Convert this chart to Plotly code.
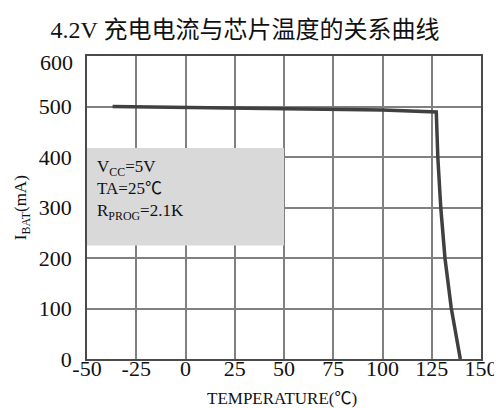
import plotly.graph_objects as go

# Data
temperature = [-37, 0, 50, 100, 127.3, 127.6, 128.1, 129.6, 131.7, 134.9, 139.5]
current = [500, 498.5, 496, 493, 489, 450, 398, 299, 200, 101, 0]

x_ticks = [-50, -25, 0, 25, 50, 75, 100, 125, 150]
y_ticks = [0, 100, 200, 300, 400, 500]
y_top_label = 600

title_text = "4.2V 充电电流与芯片温度的关系曲线"
x_title = "TEMPERATURE(℃)"
y_title = "I<sub>BAT</sub>(mA)"
note_lines = ["V<sub>CC</sub>=5V", "TA=25℃", "R<sub>PROG</sub>=2.1K"]

FONT = "Liberation Serif, Noto Sans CJK SC, serif"

W, H = 502, 408
ML, MR, MT, MB = 79, 19, 48, 57
pw = W - ML - MR
ph = H - MT - MB


def px_x(p):
    return (p - ML) / pw


def px_y(p):
    return (H - MB - p) / ph


fig = go.Figure()
fig.add_trace(go.Scatter(
    x=temperature, y=current, mode="lines",
    line=dict(color="#404040", width=3.5),
    hoverinfo="skip", showlegend=False,
))

# grey info box (between grid and traces)
fig.add_shape(type="rect", xref="x", yref="y", x0=-50, x1=50, y0=225, y1=418,
              fillcolor="#d9d9d9", line=dict(width=0), layer="between")

fig.add_annotation(
    x=-46, y=334, xref="x", yref="y", xanchor="left", yanchor="middle",
    text="<br>".join(note_lines), align="left", showarrow=False,
    font=dict(family=FONT, size=17, color="#111111"),
)

# 600 label (sits slightly below the top edge in the reference)
fig.add_annotation(
    x=0, y=y_top_label, xref="paper", yref="y", xanchor="right", yanchor="middle",
    text=str(y_top_label), showarrow=False, xshift=-12, yshift=-6,
    font=dict(family=FONT, size=22, color="#111111"),
)

# axis titles
fig.add_annotation(
    x=px_x(12), y=0.5, xref="paper", yref="paper", text=y_title, textangle=-90,
    showarrow=False, xanchor="center", yanchor="middle",
    font=dict(family=FONT, size=17, color="#111111"),
)
fig.add_annotation(
    x=px_x(279), y=px_y(390), xref="paper", yref="paper", text=x_title,
    showarrow=False, xanchor="center", yanchor="middle",
    font=dict(family=FONT, size=17, color="#111111"),
)

fig.update_layout(
    width=W, height=H,
    margin=dict(l=ML, r=MR, t=MT, b=MB),
    paper_bgcolor="white", plot_bgcolor="white",
    font=dict(family=FONT, size=22, color="#111111"),
    title=dict(text=title_text, x=237 / W, xref="container", xanchor="center",
               y=1 - 22 / H, yref="container", yanchor="middle",
               font=dict(family=FONT, size=24, color="#111111")),
    xaxis=dict(range=[-50, 150], tickvals=x_ticks, ticktext=[str(v) for v in x_ticks],
               showgrid=True, gridcolor="#808080", gridwidth=1.5,
               showline=True, linecolor="#4a4a4a", linewidth=1.5, mirror=True,
               zeroline=False, ticks="", ticklabelstandoff=-11,
               tickfont=dict(family=FONT, size=22)),
    yaxis=dict(range=[0, 600], tickvals=y_ticks, ticktext=[str(v) for v in y_ticks],
               showgrid=True, gridcolor="#808080", gridwidth=1.5,
               showline=True, linecolor="#4a4a4a", linewidth=1.5, mirror=True,
               zeroline=False, ticks="", ticklabelstandoff=9,
               tickfont=dict(family=FONT, size=22)),
)

fig.write_html("out.html")
